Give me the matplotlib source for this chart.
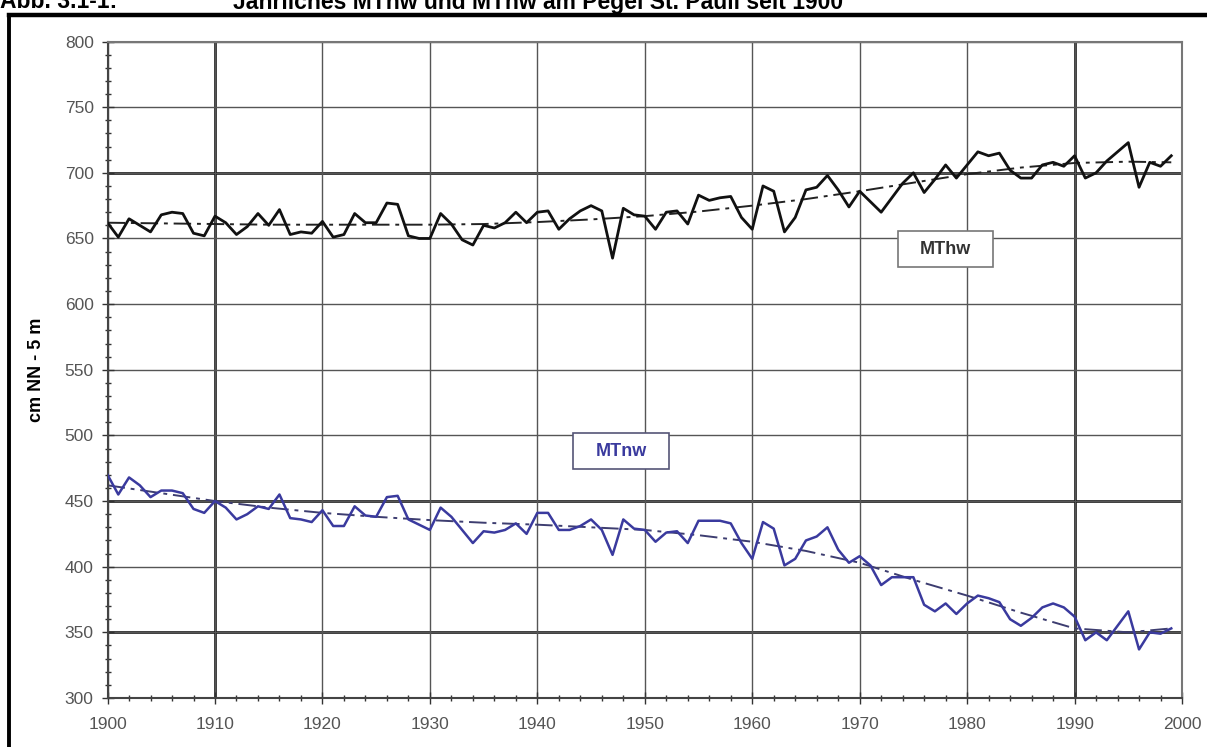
"""Jährliches MThw und MTnw am Pegel St. Pauli seit 1900 - line chart with trend lines."""
import numpy as np
import matplotlib
matplotlib.use("Agg")
import matplotlib.pyplot as plt
from matplotlib.lines import Line2D
from matplotlib.patches import Rectangle
from matplotlib.ticker import MultipleLocator

plt.rcParams['font.family'] = ['Liberation Sans', 'DejaVu Sans']

years = np.arange(1900, 2000)

# Mittleres Tidehochwasser, cm über NN - 5 m
mthw = [
    662, 651, 665, 660, 655, 668, 670, 669, 654, 652,
    667, 662, 653, 659, 669, 660, 672, 653, 655, 654,
    663, 651, 653, 669, 662, 662, 677, 676, 652, 650,
    650, 669, 661, 649, 645, 660, 658, 662, 670, 662,
    670, 671, 657, 665, 671, 675, 671, 635, 673, 668,
    667, 657, 670, 671, 661, 683, 679, 681, 682, 666,
    657, 690, 686, 655, 666, 687, 689, 698, 687, 674,
    686, 678, 670, 681, 692, 700, 685, 695, 706, 696,
    706, 716, 713, 715, 702, 696, 696, 706, 708, 705,
    713, 696, 700, 709, 716, 723, 689, 708, 705, 713,
]

# Mittleres Tideniedrigwasser
mtnw = [
    470, 455, 468, 462, 453, 458, 458, 456, 444, 441,
    450, 445, 436, 440, 446, 444, 455, 437, 436, 434,
    443, 431, 431, 446, 439, 438, 453, 454, 436, 432,
    428, 445, 438, 428, 418, 427, 426, 428, 433, 425,
    441, 441, 428, 428, 431, 436, 428, 409, 436, 429,
    428, 419, 426, 427, 418, 435, 435, 435, 433, 418,
    406, 434, 429, 401, 406, 420, 423, 430, 413, 403,
    408, 401, 386, 392, 392, 392, 371, 366, 372, 364,
    372, 378, 376, 373, 360, 355, 361, 369, 372, 369,
    362, 344, 350, 344, 355, 366, 337, 350, 349, 353,
]

# smoothed trends
trend_years = [1900, 1905, 1910, 1915, 1920, 1925, 1930, 1935, 1940, 1945,
               1950, 1955, 1960, 1965, 1970, 1975, 1980, 1985, 1990, 1995, 1999]
mthw_trend = [662, 661.5, 661, 660.5, 660.5, 660.5, 660.5, 661, 662.5, 664.5,
              667, 670.5, 675, 680, 686, 692.5, 699, 704, 707.5, 708.5, 708]
mtnw_trend = [462, 456, 450, 445, 441, 438, 435.5, 433.5, 432, 430,
              428, 424, 419, 412, 403, 390, 378, 365, 353, 350, 353]

BLUE = '#3a3a9e'

fig = plt.figure(figsize=(12.07, 7.47), dpi=100)
ax = fig.add_axes([0.0891, 0.0656, 0.8902, 0.8788])

ax.set_xlim(1900, 2000)
ax.set_ylim(300, 800)

# grid: thin grey lines, a few emphasised in black
ax.xaxis.set_major_locator(MultipleLocator(10))
ax.xaxis.set_minor_locator(MultipleLocator(2))
ax.yaxis.set_major_locator(MultipleLocator(50))
ax.yaxis.set_minor_locator(MultipleLocator(10))
ax.grid(True, which='major', color='#555555', lw=1.0, zorder=1)
for yv in (700, 450, 350):
    ax.axhline(yv, color='black', lw=1.8, zorder=1.5)
for xv in (1910, 1990):
    ax.axvline(xv, color='black', lw=1.8, zorder=1.5)

ax.plot(years, mthw, color='#111111', lw=2.0, zorder=3)
ax.plot(trend_years, mthw_trend, color='#222222', lw=1.4,
        dashes=(9, 3, 2, 3), zorder=2.5)
ax.plot(years, mtnw, color=BLUE, lw=1.8, zorder=3)
ax.plot(trend_years, mtnw_trend, color='#3d3d70', lw=1.4,
        dashes=(9, 3, 2, 3), zorder=2.5)

for s in ax.spines.values():
    s.set_color('#777777')
    s.set_linewidth(1.5)
ax.spines['left'].set_color('#444444')
ax.spines['bottom'].set_color('#444444')

ax.tick_params(which='major', direction='inout', length=8, width=1,
               color='#333333', labelsize=12.5, labelcolor='#555555')
ax.tick_params(which='minor', direction='inout', length=5, width=1,
               color='#333333')
ax.tick_params(axis='y', pad=6)
ax.tick_params(axis='x', pad=10)

ax.set_ylabel('cm NN - 5 m', fontsize=13, fontweight='bold', labelpad=14)

# series labels in framed boxes
ax.add_patch(Rectangle((1973.6, 628.2), 8.85, 27.4, facecolor='white',
                       edgecolor='#777777', lw=1.2, zorder=4))
ax.text(1978.0, 641.9, 'MThw', ha='center', va='center', fontsize=13,
        fontweight='bold', color='#333333', zorder=5)
ax.add_patch(Rectangle((1943.3, 474.3), 9.0, 27.5, facecolor='white',
                       edgecolor='#555577', lw=1.2, zorder=4))
ax.text(1947.8, 488.0, 'MTnw', ha='center', va='center', fontsize=13,
        fontweight='bold', color=BLUE, zorder=5)

# outer frame and caption (caption runs off the top edge)
W, H = 1207, 747
fig.add_artist(Line2D([8.5 / W, 8.5 / W], [0, 1 - 14.5 / H],
                      transform=fig.transFigure, color='black', lw=2.8))
fig.add_artist(Line2D([8.5 / W, 1], [1 - 14.5 / H, 1 - 14.5 / H],
                      transform=fig.transFigure, color='black', lw=3.2))
fig.text(0.0, 1 - 8.5 / H, 'Abb. 3.1-1:', fontsize=16.5, fontweight='bold',
         va='baseline', ha='left')
fig.text(233 / W, 1 - 8.5 / H,
         'Jährliches MThw und MTnw am Pegel St. Pauli seit 1900',
         fontsize=16.5, fontweight='bold', va='baseline', ha='left')

fig.savefig('out.png', dpi=100)
